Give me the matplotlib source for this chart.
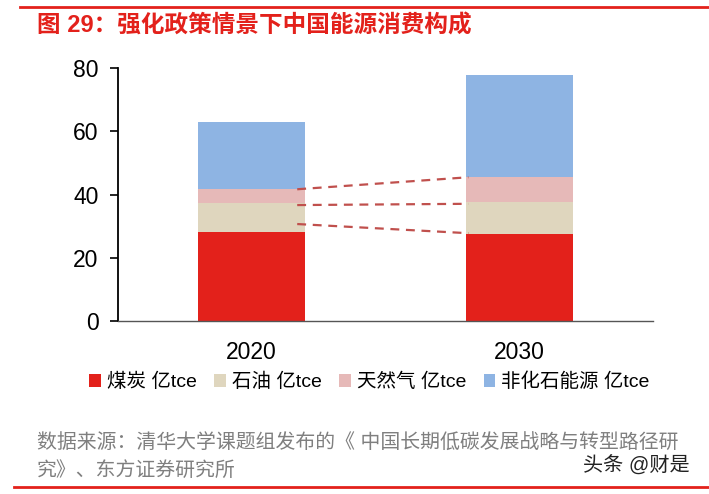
import matplotlib
matplotlib.use("Agg")
import matplotlib.pyplot as plt
from matplotlib.lines import Line2D
import numpy as np

plt.rcParams['font.family'] = ['Liberation Sans', 'Noto Sans CJK SC']

years = ['2020', '2030']
series_names = ['煤炭 亿tce', '石油 亿tce', '天然气 亿tce', '非化石能源 亿tce']
coal = [28.3, 27.4]
oil = [9.1, 10.2]
gas = [4.4, 7.9]
nonfossil = [21.1, 32.3]
colors = ['#E3211B', '#DFD6BE', '#E6B9B8', '#8EB4E3']

# dashed connector levels as drawn (2020 end, 2030 end)
conn_2020 = [41.7, 36.7, 30.7]
conn_2030 = [45.5, 37.1, 27.8]

title = '图 29：强化政策情景下中国能源消费构成'
source_lines = ['数据来源：清华大学课题组发布的《 中国长期低碳发展战略与转型路径研',
                '究》、东方证券研究所']
watermark = '头条 @财是'


def generate_plot():
    fig = plt.figure(figsize=(7.09, 4.94), dpi=100)
    ax = fig.add_axes([0.1664, 0.350, 0.7546, 0.512])

    x = np.arange(len(years))
    width = 0.40
    bottom = np.zeros(len(years))
    for vals, name, c in zip([coal, oil, gas, nonfossil], series_names, colors):
        ax.bar(x, vals, width, bottom=bottom, color=c, label=name, zorder=2)
        bottom = bottom + np.array(vals)

    for a, b in zip(conn_2020, conn_2030):
        ax.plot([x[0] + width / 2 - 0.03, x[1] - width / 2 + 0.01], [a, b],
                linestyle=(0, (4, 3)), color='#C0504D', lw=1.6, zorder=3)

    ax.set_xlim(-0.5, 1.5)
    ax.set_ylim(0, 80)
    ax.set_yticks([0, 20, 40, 60, 80])
    ax.set_xticks(x)
    ax.set_xticklabels(years)
    ax.tick_params(axis='y', labelsize=16.5, length=6, width=1.2, direction='out', pad=8)
    ax.tick_params(axis='x', labelsize=16.5, length=0, pad=14)
    for s in ['top', 'right']:
        ax.spines[s].set_visible(False)
    ax.spines['left'].set_linewidth(1.3)
    ax.spines['bottom'].set_linewidth(1.0)
    ax.spines['bottom'].set_color('#555555')

    ax.legend(loc='upper center', bbox_to_anchor=(0.47, -0.135), ncol=4,
              frameon=False, fontsize=14, handlelength=0.6, handleheight=0.6,
              handletextpad=0.3, columnspacing=0.9)

    # header / footer decoration
    fig.add_artist(Line2D([20 / 709, 1.0], [1 - 7 / 494, 1 - 7 / 494], color='#E3211B', lw=2))
    fig.add_artist(Line2D([14 / 709, 1.0], [1 - 487 / 494, 1 - 487 / 494], color='#E3211B', lw=2))
    fig.text(37 / 709, 1 - 26 / 494, title, color='#E3211B', fontsize=17,
             fontweight='bold', va='center', ha='left')
    for i, line in enumerate(source_lines):
        fig.text(37 / 709, 1 - (442 + 28 * i) / 494, line, color='#7F7F7F',
                 fontsize=14.3, va='center', ha='left')
    fig.text(690 / 709, 1 - 466 / 494, watermark, color='#222222', fontsize=14.5,
             va='center', ha='right')

    fig.savefig('out.png', dpi=100)


if __name__ == '__main__':
    generate_plot()
